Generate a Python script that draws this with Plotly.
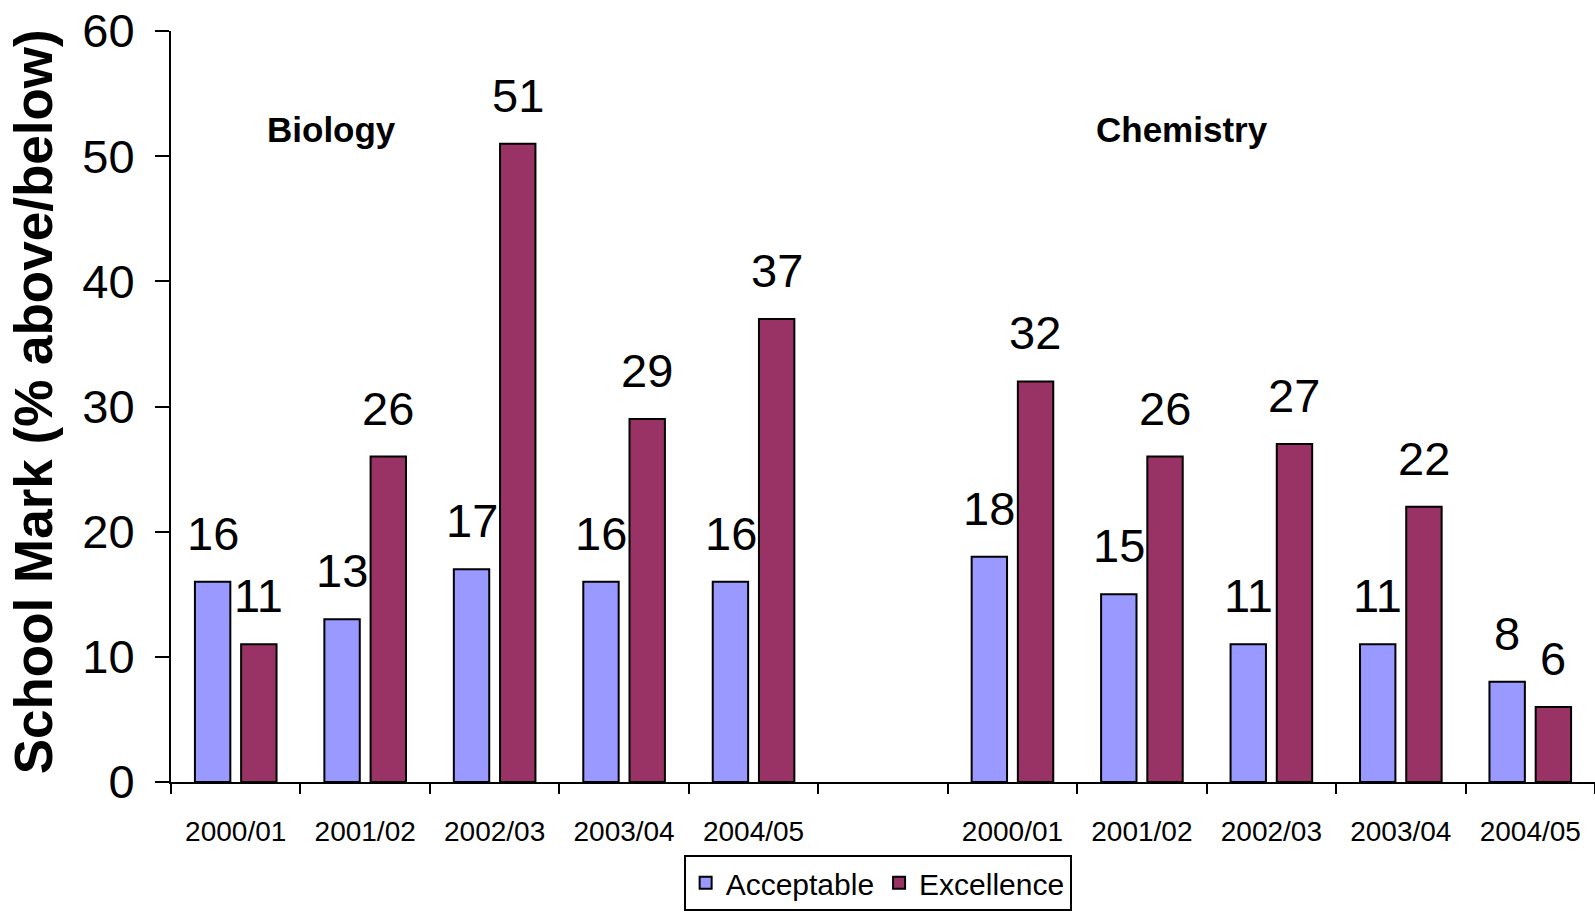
import plotly.graph_objects as go

# ---- data ----
subjects = ["Biology", "Chemistry"]
years = ["2000/01", "2001/02", "2002/03", "2003/04", "2004/05"]
bio_acceptable = [16, 13, 17, 16, 16]
bio_excellence = [11, 26, 51, 29, 37]
chem_acceptable = [18, 15, 11, 11, 8]
chem_excellence = [32, 26, 27, 22, 6]
series_names = ["Acceptable", "Excellence"]
y_title = "School Mark (% above/below)"

# ---- build category axis (Biology block, empty slot, Chemistry block) ----
gap_id = " "
categories = [f"{subjects[0]} {y}" for y in years] + [gap_id] + [f"{subjects[1]} {y}" for y in years]
tick_text = years + [""] + years
acceptable = bio_acceptable + [None] + chem_acceptable
excellence = bio_excellence + [None] + chem_excellence

FONT = "Liberation Sans, Arial, sans-serif"
colors = ["#9999FF", "#993366"]

fig = go.Figure()
for name, vals, col in zip(series_names, [acceptable, excellence], colors):
    fig.add_trace(go.Bar(
        x=categories, y=vals, name=name,
        marker=dict(color=col, line=dict(color="black", width=2)),
    ))

# data labels
shift = 23
annotations = []
for vals, xs in [(acceptable, -shift), (excellence, shift)]:
    for c, v in zip(categories, vals):
        if v is None:
            continue
        annotations.append(dict(
            x=c, y=v, xref="x", yref="y", text=str(v), showarrow=False,
            xanchor="center", yanchor="bottom", xshift=xs, yshift=20,
            font=dict(family=FONT, size=47, color="black"),
        ))

# subject labels
for subj, px in zip(subjects, [0.1124, 0.7103]):
    annotations.append(dict(
        x=px, y=0.8683, xref="paper", yref="paper", text=f"<b>{subj}</b>",
        showarrow=False, xanchor="center", yanchor="middle",
        font=dict(family=FONT, size=35, color="black"),
    ))

# y-axis title
annotations.append(dict(
    x=-0.0965, y=0.5063, xref="paper", yref="paper", text=f"<b>{y_title}</b>",
    showarrow=False, textangle=-90, xanchor="center", yanchor="middle",
    font=dict(family=FONT, size=53, color="black"),
))

fig.update_layout(
    width=1595, height=915,
    margin=dict(l=171, r=0, t=31, b=133),
    paper_bgcolor="white", plot_bgcolor="white",
    barmode="group", bargap=0.286, bargroupgap=0.234,
    font=dict(family=FONT, color="black"),
    annotations=annotations,
    showlegend=True,
    legend=dict(
        orientation="h", x=0.36, y=-0.097, xanchor="left", yanchor="top",
        font=dict(family=FONT, size=30, color="black"),
        bordercolor="black", borderwidth=2, bgcolor="white",
        traceorder="normal",
    ),
)

fig.update_xaxes(
    type="category", categoryorder="array", categoryarray=categories,
    tickmode="array", tickvals=categories, ticktext=tick_text,
    tickson="boundaries", ticks="outside", ticklen=10, tickwidth=2, tickcolor="black",
    showline=True, linecolor="black", linewidth=2,
    showgrid=False, zeroline=False,
    tickfont=dict(family=FONT, size=28, color="black"),
    ticklabelstandoff=23,
    range=[-0.5, 10.5],
)
fig.update_yaxes(
    range=[0, 60], dtick=10, tick0=0,
    ticks="outside", ticklen=14, tickwidth=2, tickcolor="black",
    showline=True, linecolor="black", linewidth=2,
    showgrid=False, zeroline=False,
    tickfont=dict(family=FONT, size=47, color="black"),
    ticklabelstandoff=11,
)

fig.write_html("out.html")
